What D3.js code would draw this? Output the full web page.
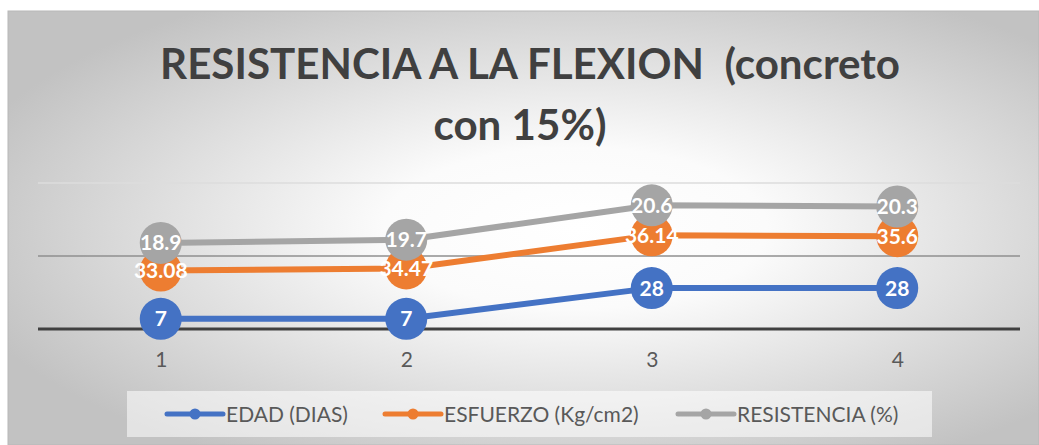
<!DOCTYPE html>
<html>
<head>
<meta charset="utf-8">
<script src="https://cdn.jsdelivr.net/npm/d3@7"></script>
<style>
  body { margin: 0; background: #fff; }
  svg { display: block; font-family: Lato, "Open Sans", sans-serif; }
</style>
</head>
<body>
<div id="chart"></div>
<script>
// data
var categories = ["1", "2", "3", "4"];
var edad = [7, 7, 28, 28];
var esfuerzo = [33.08, 34.47, 36.14, 35.6];
var resistencia = [18.9, 19.7, 20.6, 20.3];
var seriesNames = ["EDAD (DIAS)", "ESFUERZO (Kg/cm2)", "RESISTENCIA (%)"];
var seriesColors = ["#4472C4", "#ED7D31", "#A5A5A5"];
var gridValues = [0, 50, 100];

var W = 1039, H = 445;

var svg = d3.select("#chart").append("svg")
    .attr("width", W)
    .attr("height", H);

// background gradient (radial, white centre, grey edges)
var defs = svg.append("defs");
var grad = defs.append("radialGradient")
    .attr("id", "bg")
    .attr("cx", "55%").attr("cy", "50%").attr("r", "62%");
grad.append("stop").attr("offset", "0%").attr("stop-color", "#ffffff");
grad.append("stop").attr("offset", "30%").attr("stop-color", "#fbfbfb");
grad.append("stop").attr("offset", "100%").attr("stop-color", "#c2c2c2");

svg.append("rect")
    .attr("x", 8).attr("y", 11)
    .attr("width", W - 8).attr("height", H - 11)
    .attr("fill", "url(#bg)")
    .attr("stroke", "#b8b8b8")
    .attr("stroke-width", 1);

// title
var title = svg.append("g").attr("class", "title")
    .attr("fill", "#404040")
    .attr("font-weight", "bold")
    .attr("font-size", "42px")
    .attr("text-anchor", "middle");

var t1 = title.append("text").attr("x", 530).attr("y", 79)
    .text("RESISTENCIA A LA FLEXION \u00a0(concreto");
var t2 = title.append("text").attr("x", 520).attr("y", 140)
    .text("con 15%)");

// squeeze the title a bit to mimic the narrow original face
var natural = t1.node().getComputedTextLength();
var sx = 740 / natural;
t1.attr("transform", "translate(530,0) scale(" + sx + ",1) translate(-530,0)");
t2.attr("transform", "translate(520,0) scale(" + sx + ",1) translate(-520,0)");

// scales
var x = d3.scalePoint()
    .domain(categories)
    .range([38, 1020])
    .padding(0.5);

var y = d3.scaleLinear()
    .domain([0, 100])
    .range([329, 183]);

// gridlines
var gridStyle = { 0: ["#404040", 3], 50: ["#8f8f8f", 1.5], 100: ["#dcdcdc", 1.5] };
svg.append("g").selectAll("line")
    .data(gridValues)
    .enter().append("line")
    .attr("x1", 38).attr("x2", 1020)
    .attr("y1", function(d) { return y(d); })
    .attr("y2", function(d) { return y(d); })
    .attr("stroke", function(d) { return gridStyle[d][0]; })
    .attr("stroke-width", function(d) { return gridStyle[d][1]; });

// x axis labels
var xAxis = d3.axisBottom(x).tickSize(0).tickPadding(23);
var xg = svg.append("g")
    .attr("transform", "translate(0," + y(0) + ")")
    .call(xAxis);
xg.select(".domain").remove();
xg.selectAll("text")
    .attr("font-family", "Lato, sans-serif")
    .attr("font-size", "21px")
    .attr("fill", "#595959");

// stacked lines
var rows = categories.map(function(c, i) {
    return { cat: c, edad: edad[i], esfuerzo: esfuerzo[i], resistencia: resistencia[i] };
});
var keys = ["edad", "esfuerzo", "resistencia"];
var stacked = d3.stack().keys(keys)(rows);

var line = d3.line()
    .x(function(d) { return x(d.data.cat); })
    .y(function(d) { return y(d[1]); });

var layers = svg.append("g").selectAll("g.layer")
    .data(stacked)
    .enter().append("g")
    .attr("class", "layer");

layers.append("path")
    .attr("d", function(d) { return line(d); })
    .attr("fill", "none")
    .attr("stroke", function(d, i) { return seriesColors[i]; })
    .attr("stroke-width", 6)
    .attr("stroke-linejoin", "round");

layers.selectAll("circle")
    .data(function(d, i) { return d.map(function(p) { p.si = i; return p; }); })
    .enter().append("circle")
    .attr("cx", function(d) { return x(d.data.cat); })
    .attr("cy", function(d) { return y(d[1]); })
    .attr("r", 21)
    .attr("fill", function(d) { return seriesColors[d.si]; });

// data labels on top
var labels = svg.append("g")
    .attr("font-weight", "bold")
    .attr("font-size", "21px")
    .attr("fill", "#ffffff")
    .attr("text-anchor", "middle");

stacked.forEach(function(layer, i) {
    labels.selectAll("text.s" + i)
        .data(layer)
        .enter().append("text")
        .attr("class", "s" + i)
        .attr("x", function(d) { return x(d.data.cat); })
        .attr("y", function(d) { return y(d[1]); })
        .attr("dy", "0.36em")
        .text(function(d) { return d.data[keys[i]]; });
});

// legend
var legend = svg.append("g");
legend.append("rect")
    .attr("x", 127).attr("y", 391)
    .attr("width", 805).attr("height", 46)
    .attr("fill", "#ffffff")
    .attr("fill-opacity", 0.55);

var legendX = [167, 385, 678];
var items = legend.selectAll("g.item")
    .data(seriesNames)
    .enter().append("g")
    .attr("class", "item")
    .attr("transform", function(d, i) { return "translate(" + legendX[i] + ",414)"; });

items.append("line")
    .attr("x1", 0).attr("x2", 56)
    .attr("stroke", function(d, i) { return seriesColors[i]; })
    .attr("stroke-width", 5)
    .attr("stroke-linecap", "round");
items.append("circle")
    .attr("cx", 28).attr("r", 5.5)
    .attr("fill", function(d, i) { return seriesColors[i]; });
items.append("text")
    .attr("x", 59)
    .attr("y", 7.5)
    .attr("font-size", "21px")
    .attr("fill", "#595959")
    .text(function(d) { return d; });
</script>
</body>
</html>
